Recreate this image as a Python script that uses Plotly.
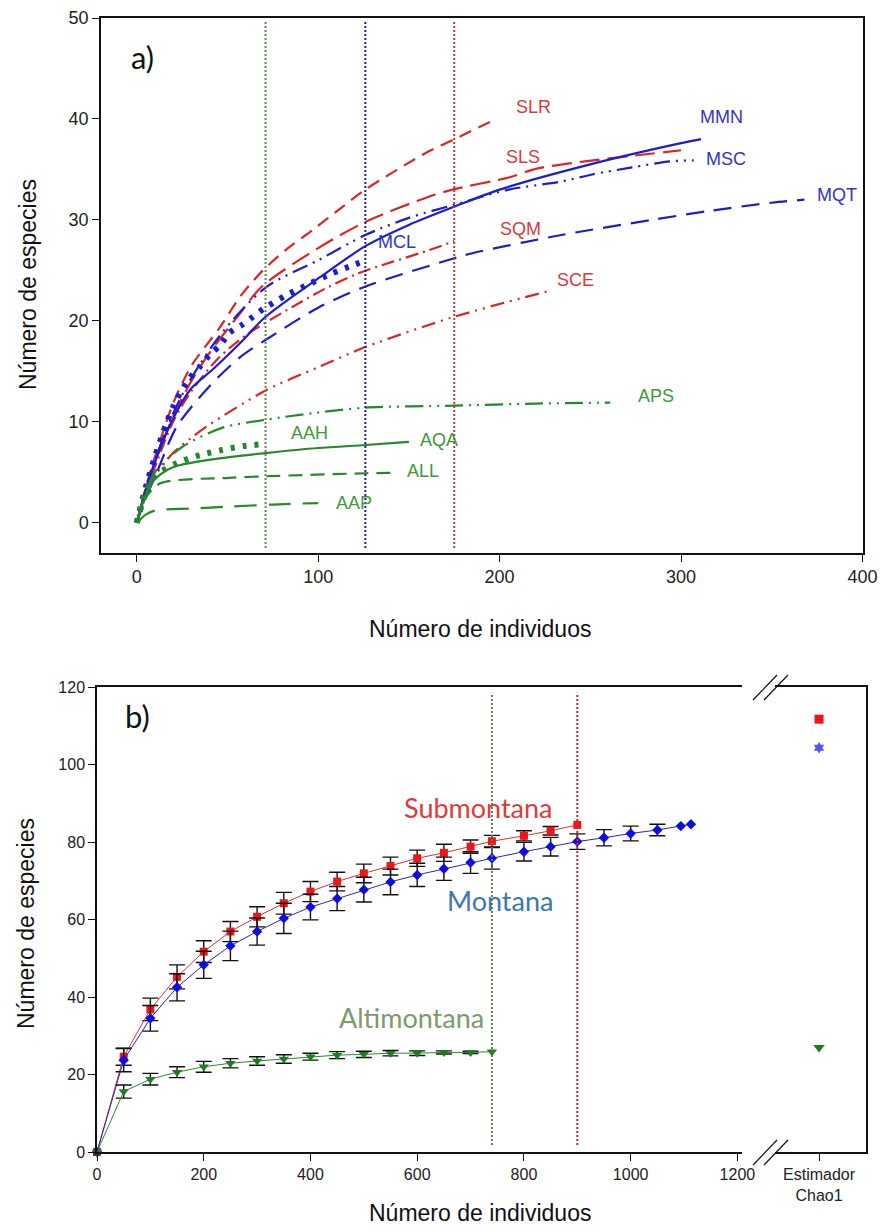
import plotly.graph_objects as go

# ---------------- panel a: rarefaction curves per site ----------------
SLR_x = [0, 5, 10, 20, 30, 46, 57, 69, 82, 97, 112, 126, 161, 174, 198]
SLR_y = [0, 3.5, 6.5, 11.8, 15.5, 19.4, 22.4, 24.9, 27.0, 29.0, 31.1, 33.0, 36.8, 37.9, 40.0]
SLS_x = [0, 5, 10, 20, 30, 40, 55, 69, 100, 126, 161, 174, 205, 221, 247, 271, 300]
SLS_y = [0, 3.2, 6.0, 10.5, 14.0, 16.8, 20.3, 23.4, 27.2, 29.8, 32.3, 33.0, 34.2, 35.1, 35.8, 36.3, 36.9]
SQM_x = [0, 5, 10, 20, 30, 45, 62, 86, 104, 122, 161, 175]
SQM_y = [0, 3.0, 5.5, 10.0, 13.0, 16.3, 18.8, 21.4, 23.2, 24.7, 27.0, 27.9]
SCE_x = [0, 5, 10, 20, 30, 40, 71, 100, 126, 175, 228]
SCE_y = [0, 2.6, 4.6, 6.9, 8.4, 9.7, 13.1, 15.4, 17.4, 20.4, 23.0]

MMN_x = [0, 5, 10, 20, 30, 42, 57, 71, 104, 126, 150, 175, 200, 250, 300, 311]
MMN_y = [0, 3.3, 6.0, 10.3, 13.3, 15.2, 17.8, 20.4, 24.7, 27.4, 29.5, 31.3, 33.0, 35.5, 37.6, 38.0]
MSC_x = [0, 5, 10, 20, 30, 47, 71, 100, 126, 150, 175, 205, 234, 251, 273, 294, 307]
MSC_y = [0, 3.3, 6.2, 10.8, 14.3, 18.8, 23.3, 26.0, 28.5, 30.2, 31.5, 33.0, 33.8, 34.5, 35.2, 35.8, 35.9]
MQT_x = [0, 5, 10, 22, 40, 57, 71, 100, 126, 175, 185, 234, 284, 316, 350, 368]
MQT_y = [0, 2.5, 4.5, 9.5, 13.5, 16.4, 18.1, 21.3, 23.4, 26.2, 26.7, 28.5, 30.0, 30.9, 31.7, 32.0]
MCL_x = [0, 5, 10, 16.5, 22, 29, 35, 40, 46, 51, 58, 64, 70, 82, 94.5, 107, 119, 125]
MCL_y = [0, 3.5, 6.5, 9.9, 12.2, 14.3, 15.5, 16.6, 17.6, 18.8, 19.6, 20.4, 21.2, 22.5, 23.6, 24.65, 25.5, 25.9]

APS_x = [0, 5, 10, 25, 47, 71, 99, 126, 175, 220, 261]
APS_y = [0, 3.0, 5.0, 7.5, 9.4, 10.2, 10.9, 11.4, 11.6, 11.8, 11.9]
AAH_x = [0, 5, 10, 22, 35, 47, 59, 71]
AAH_y = [0, 3.0, 4.6, 5.9, 6.7, 7.2, 7.6, 7.8]
AQA_x = [0, 5, 10, 20, 51, 71, 100, 126, 150]
AQA_y = [0, 2.8, 4.3, 5.5, 6.5, 6.9, 7.4, 7.7, 8.0]
ALL_x = [0, 5, 13, 51, 71, 126, 142]
ALL_y = [0, 2.5, 3.9, 4.45, 4.6, 4.9, 4.95]
AAP_x = [0, 5, 10, 30, 51, 75, 100]
AAP_y = [0, 0.8, 1.2, 1.4, 1.6, 1.8, 1.95]

# sample sizes marked with vertical reference lines (Altimontana, Montana, Submontana)
A_VLINES = [71, 126, 175]

A_XTICKS = [0, 100, 200, 300, 400]
A_YTICKS = [0, 10, 20, 30, 40, 50]

# ---------------- panel b: pooled curves per forest belt ----------------
SUB_x = [0, 50, 100, 150, 200, 250, 300, 350, 400, 450, 500, 550, 600, 650, 700, 740, 800, 850, 900]
SUB_y = [0, 24.6, 36.8, 45.2, 51.7, 56.9, 60.7, 64.2, 67.2, 69.8, 71.9, 73.8, 75.8, 77.2, 78.8, 80.2, 81.6, 82.9, 84.4]
SUB_e = [0, 2.2, 2.9, 3.1, 2.8, 2.6, 2.6, 2.8, 2.6, 2.4, 2.4, 2.3, 2.1, 2.2, 1.7, 1.5, 1.3, 1.1, 0]

MON_x = [0, 50, 100, 150, 200, 250, 300, 350, 400, 450, 500, 550, 600, 650, 700, 740, 800, 850,
         900, 950, 1000, 1050, 1094, 1113]
MON_y = [0, 23.7, 34.5, 42.5, 48.3, 53.2, 56.9, 60.3, 63.2, 65.4, 67.7, 69.7, 71.5, 73.1, 74.7, 75.8,
         77.5, 78.8, 80.1, 81.1, 82.2, 83.1, 84.1, 84.6]
MON_e = [0, 3.0, 3.3, 3.5, 3.5, 3.8, 3.5, 3.9, 3.3, 3.1, 3.2, 3.3, 3.0, 3.0, 2.8, 2.8, 2.4, 2.4,
         2.0, 2.1, 1.9, 1.5, 0, 0]

ALT_x = [0, 50, 100, 150, 200, 250, 300, 350, 400, 450, 500, 550, 600, 650, 700, 740]
ALT_y = [0, 15.6, 18.8, 20.6, 22.0, 22.9, 23.5, 24.0, 24.6, 25.0, 25.2, 25.5, 25.5, 25.7, 25.7, 25.9]
ALT_e = [0, 1.7, 1.5, 1.4, 1.4, 1.2, 1.1, 1.1, 0.9, 0.9, 0.8, 0.7, 0.6, 0.4, 0.3, 0]

# Chao1 richness estimates
CHAO1 = {"Submontana": 111.7, "Montana": 104.3, "Altimontana": 27.0}
B_VLINES = [740, 900]

B_XTICKS = [0, 200, 400, 600, 800, 1000, 1200]
B_XTICKTEXT = ["0", "200", "400", "600", "800", "1000", "1200"]
CHAO1_LABEL = "Estimador<br>Chao1"
B_YTICKS = [0, 20, 40, 60, 80, 100, 120]

# ---------------- styling ----------------
W, H = 881, 1230
RED, BLUE, GREEN = "#e02424", "#1c1cd0", "#23892a"
RED_T, BLUE_T, GREEN_T = "#dd3a3a", "#3434c8", "#3c9a3c"
FONT = "Liberation Sans, Arial, sans-serif"
FONT2 = "Lato, Open Sans, sans-serif"
CHAO1_POS = 1353


def fx(p):
    return p / W


def fy(p):
    return 1 - p / H


fig = go.Figure()

a_series = [
    (SLR_x, SLR_y, RED, "13px,8px", 2.2),
    (SLS_x, SLS_y, RED, "20px,8px", 2.2),
    (SQM_x, SQM_y, RED, "13px,5px,2px,5px", 2.2),
    (SCE_x, SCE_y, RED, "14px,6px,2px,6px,2px,6px", 2.2),
    (MMN_x, MMN_y, BLUE, "solid", 2.2),
    (MSC_x, MSC_y, BLUE, "16px,6px,2px,6px,2px,6px", 2.2),
    (MQT_x, MQT_y, BLUE, "18px,10px", 2.2),
    (MCL_x, MCL_y, BLUE, "4px,8px", 6),
    (APS_x, APS_y, GREEN, "18px,6px,2px,6px,2px,6px", 2.2),
    (AAH_x, AAH_y, GREEN, "4px,8px", 6),
    (AQA_x, AQA_y, GREEN, "solid", 2.2),
    (ALL_x, ALL_y, GREEN, "14px,8px", 2.2),
    (AAP_x, AAP_y, GREEN, "22px,12px", 2.2),
]
for xs, ys, col, dash, w in a_series:
    fig.add_trace(go.Scatter(
        x=xs, y=ys, mode="lines", xaxis="x", yaxis="y",
        line=dict(color=col, width=w, dash=dash, shape="spline", smoothing=0.8),
        showlegend=False, hoverinfo="skip"))

for xv, col in zip(A_VLINES, ["#5d8a4e", "#202090", "#cc3434"]):
    fig.add_trace(go.Scatter(
        x=[xv, xv], y=[-2.5, 49.8], mode="lines", xaxis="x", yaxis="y",
        line=dict(color=col, width=2, dash="2px,2px"),
        showlegend=False, hoverinfo="skip"))


def label(text, x, y, xref, yref, size, color, family=FONT, angle=0):
    return dict(text=text, x=x, y=y, xref=xref, yref=yref, showarrow=False,
                xanchor="center", yanchor="middle", textangle=angle,
                font=dict(family=family, size=size, color=color))


a_labels = [
    ("SLR", 218.7, 41.2, RED_T), ("SLS", 213, 36.2, RED_T), ("SQM", 211.5, 29.1, RED_T),
    ("SCE", 242, 24.0, RED_T), ("MMN", 322.5, 40.2, BLUE_T), ("MSC", 324.7, 36.0, BLUE_T),
    ("MQT", 386, 32.5, BLUE_T), ("MCL", 143.4, 27.8, BLUE_T), ("APS", 286, 12.6, GREEN_T),
    ("AAH", 95, 8.9, GREEN_T), ("AQA", 166.5, 8.2, GREEN_T), ("ALL", 158, 5.1, GREEN_T),
    ("AAP", 120, 2.0, GREEN_T),
]
annotations = [label(t, xv, yv, "x", "y", 18, c) for t, xv, yv, c in a_labels]

# ---------------- panel b traces ----------------
b_series = [
    (SUB_x, SUB_y, SUB_e, "#ee1515", "square", 8, "#e03030"),
    (MON_x, MON_y, MON_e, "#0c0ce6", "diamond", 8, "#2a2aa8"),
    (ALT_x, ALT_y, ALT_e, "#1b7d1b", "triangle-down", 9, "#2a8a2a"),
]
for xs, ys, es, mcol, sym, size, lcol in b_series:
    pts = [(x, y, e) for x, y, e in zip(xs, ys, es) if e > 0]
    fig.add_trace(go.Scatter(
        x=[p[0] for p in pts], y=[p[1] for p in pts], mode="markers",
        xaxis="x2", yaxis="y2", marker=dict(size=1, color="rgba(0,0,0,0)"),
        error_y=dict(type="data", array=[p[2] for p in pts], color="#111111",
                     thickness=1.4, width=8),
        showlegend=False, hoverinfo="skip"))
    fig.add_trace(go.Scatter(
        x=xs, y=ys, mode="lines+markers", xaxis="x2", yaxis="y2",
        line=dict(color=lcol, width=1),
        marker=dict(symbol=sym, size=size, color=mcol),
        cliponaxis=False, showlegend=False, hoverinfo="skip"))

chao_style = {"Submontana": ("square", 9, "#ee1515"),
              "Montana": ("hexagram", 9, "#5656ee"),
              "Altimontana": ("triangle-down", 10, "#1b7d1b")}
for name, val in CHAO1.items():
    sym, size, col = chao_style[name]
    fig.add_trace(go.Scatter(
        x=[CHAO1_POS], y=[val], mode="markers", xaxis="x2", yaxis="y2",
        marker=dict(symbol=sym, size=size, color=col),
        showlegend=False, hoverinfo="skip"))

for xv, col in zip(B_VLINES, ["#5d7d4c", "#d42a2a"]):
    fig.add_trace(go.Scatter(
        x=[xv, xv], y=[1.8, 118.5], mode="lines", xaxis="x2", yaxis="y2",
        line=dict(color=col, width=2, dash="2px,2px"),
        showlegend=False, hoverinfo="skip"))

annotations += [
    label("Submontana", 714, 88.8, "x2", "y2", 27, "#e03a3a", FONT2),
    label("Montana", 755, 65.0, "x2", "y2", 27, "#3a78b4", FONT2),
    label("Altimontana", 590, 34.6, "x2", "y2", 27, "#7c9a6c", FONT2),
]

# panel letters and axis titles
annotations += [
    label("a)", fx(142), fy(57), "paper", "paper", 31, "#111", FONT2),
    label("b)", fx(137), fy(716), "paper", "paper", 31, "#111", FONT2),
    label("Número de especies", fx(28), fy(285), "paper", "paper", 23, "#111", FONT, -90),
    label("Número de individuos", fx(480), fy(629), "paper", "paper", 23, "#111"),
    label("Número de especies", fx(26), fy(924), "paper", "paper", 23, "#111", FONT, -90),
    label("Número de individuos", fx(480), fy(1213), "paper", "paper", 23, "#111"),
]

# axis break marks between 1200 and the Chao1 column
BX0, BX1, BY0, BY1 = 97, 866, 687, 1152


def bdx(p):
    return (p - BX0) / (BX1 - BX0)


def bdy(p):
    return 1 - (p - BY0) / (BY1 - BY0)


shapes = []
for yline in (BY0, BY1):
    shapes.append(dict(type="line", xref="x2 domain", yref="y2 domain",
                       x0=bdx(742), x1=bdx(775), y0=bdy(yline), y1=bdy(yline),
                       line=dict(color="white", width=5), layer="above"))
    for off in (0, 11):
        shapes.append(dict(type="line", xref="x2 domain", yref="y2 domain",
                           x0=bdx(753 + off), y0=bdy(yline + 13),
                           x1=bdx(777 + off), y1=bdy(yline - 12),
                           line=dict(color="#111", width=1.2), layer="above"))

axis_common = dict(showline=True, linecolor="#111", linewidth=1.5, mirror=True,
                   ticks="outside", ticklen=7, tickwidth=1.3, tickcolor="#111",
                   showgrid=False, zeroline=False, automargin=False)

fig.update_layout(
    width=W, height=H,
    margin=dict(l=0, r=0, t=0, b=0),
    paper_bgcolor="white", plot_bgcolor="white",
    xaxis=dict(domain=[fx(101), fx(863)], range=[-19.7, 400.3], anchor="y",
               tickvals=A_XTICKS, tickfont=dict(family=FONT, size=18, color="#222"),
               **axis_common),
    yaxis=dict(domain=[fy(553), fy(18)], range=[-3, 50], anchor="x",
               tickvals=A_YTICKS, tickfont=dict(family=FONT, size=18, color="#222"),
               **axis_common),
    xaxis2=dict(domain=[fx(BX0), fx(BX1)], range=[0, 1441], anchor="y2",
                tickvals=B_XTICKS + [CHAO1_POS], ticktext=B_XTICKTEXT + [CHAO1_LABEL],
                tickfont=dict(family=FONT, size=16, color="#222"), **axis_common),
    yaxis2=dict(domain=[fy(BY1), fy(BY0)], range=[0, 120], anchor="x2",
                tickvals=B_YTICKS, tickfont=dict(family=FONT, size=16, color="#222"),
                **axis_common),
    annotations=annotations,
    shapes=shapes,
    showlegend=False,
)

fig.write_html("out.html")
